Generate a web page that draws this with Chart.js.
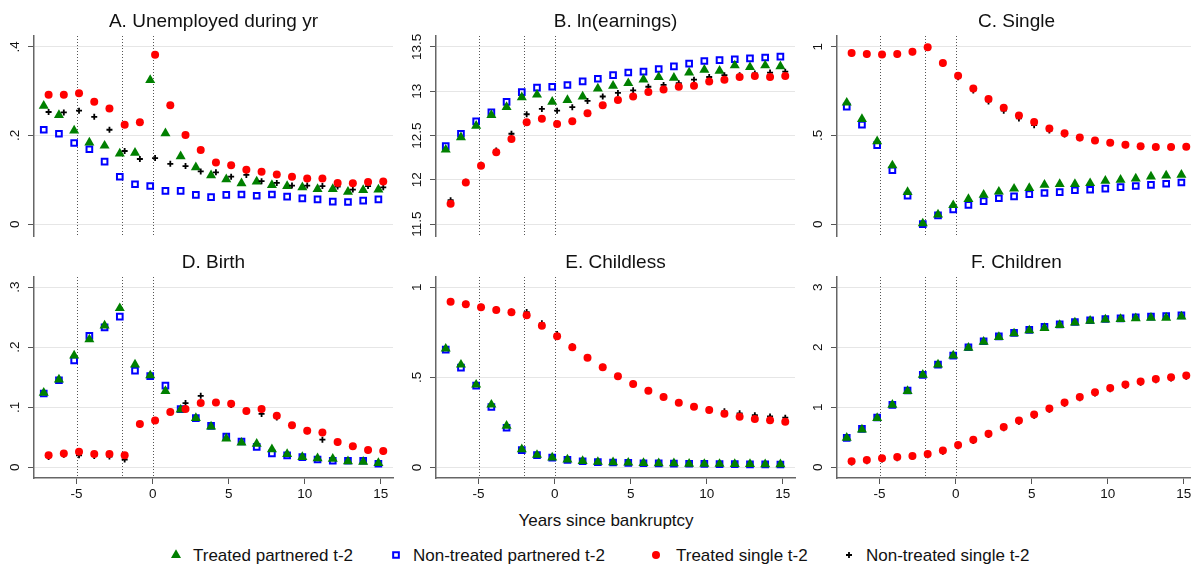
<!DOCTYPE html>
<html>
<head>
<meta charset="utf-8">
<script src="https://cdn.jsdelivr.net/npm/chart.js@4.4.1/dist/chart.umd.min.js"></script>
<style>
  body { margin: 0; width: 1191px; height: 570px; overflow: hidden; background: #fff;
         position: relative; font-family: "Liberation Sans", Arial, sans-serif; color: #111; }
  canvas { position: absolute; }
  .title { position: absolute; font-size: 19px; line-height: 1; white-space: nowrap; transform: translate(-50%, -50%); }
  .xtitle { position: absolute; left: 606px; top: 520px; font-size: 17px; line-height: 1; white-space: nowrap; transform: translate(-50%, -50%); }
  .leg { position: absolute; top: 555px; font-size: 17px; line-height: 1; white-space: nowrap; transform: translateY(-50%); }
</style>
</head>
<body>
<div id="root"></div>
<div class="xtitle">Years since bankruptcy</div>
<script>
// years relative to bankruptcy
const years = [-7, -6, -5, -4, -3, -2, -1, 0, 1, 2, 3, 4, 5, 6, 7, 8, 9, 10, 11, 12, 13, 14, 15];
const eventYears = [-5, -2, 0];

// A. Unemployed during yr
const unempTP = [0.267, 0.246, 0.211, 0.184, 0.177, 0.159, 0.161, 0.325, 0.205, 0.153, 0.128, 0.110, 0.101, 0.092, 0.096, 0.088, 0.086, 0.083, 0.079, 0.079, 0.073, 0.077, 0.078];
const unempNP = [0.213, 0.204, 0.183, 0.169, 0.141, 0.107, 0.090, 0.086, 0.075, 0.075, 0.066, 0.061, 0.066, 0.067, 0.064, 0.067, 0.062, 0.058, 0.056, 0.051, 0.050, 0.053, 0.056];
const unempTS = [0.292, 0.292, 0.295, 0.276, 0.261, 0.224, 0.230, 0.382, 0.268, 0.201, 0.167, 0.139, 0.133, 0.123, 0.118, 0.112, 0.107, 0.103, 0.103, 0.093, 0.092, 0.095, 0.096];
const unempNS = [0.253, 0.252, 0.256, 0.242, 0.213, 0.165, 0.147, 0.149, 0.136, 0.131, 0.119, 0.117, 0.107, 0.111, 0.097, 0.093, 0.087, 0.087, 0.086, 0.085, 0.078, 0.086, 0.083];

// B. ln(earnings)
const earnTP = [12.34, 12.48, 12.61, 12.73, 12.82, 12.93, 12.96, 12.88, 12.90, 12.94, 13.03, 13.06, 13.09, 13.13, 13.16, 13.15, 13.21, 13.24, 13.23, 13.29, 13.27, 13.29, 13.28];
const earnNP = [12.38, 12.52, 12.66, 12.76, 12.88, 12.99, 13.04, 13.05, 13.07, 13.11, 13.14, 13.18, 13.21, 13.22, 13.25, 13.28, 13.31, 13.34, 13.35, 13.36, 13.37, 13.38, 13.39];
const earnTS = [11.73, 11.97, 12.16, 12.31, 12.46, 12.65, 12.69, 12.63, 12.66, 12.75, 12.84, 12.90, 12.94, 12.99, 13.02, 13.05, 13.06, 13.11, 13.13, 13.16, 13.17, 13.16, 13.17];
const earnNS = [11.77, 11.98, 12.17, 12.33, 12.52, 12.74, 12.80, 12.78, 12.82, 12.89, 12.94, 12.98, 13.01, 13.05, 13.07, 13.09, 13.13, 13.16, 13.18, 13.18, 13.20, 13.21, 13.22];

// C. Single
const singleTP = [0.685, 0.593, 0.467, 0.331, 0.181, 0.004, 0.054, 0.107, 0.141, 0.165, 0.183, 0.200, 0.204, 0.222, 0.226, 0.226, 0.231, 0.244, 0.250, 0.257, 0.268, 0.274, 0.278];
const singleNP = [0.663, 0.561, 0.446, 0.304, 0.161, 0.000, 0.050, 0.083, 0.109, 0.130, 0.146, 0.157, 0.169, 0.176, 0.181, 0.191, 0.194, 0.200, 0.209, 0.215, 0.222, 0.228, 0.235];
const singleTS = [0.965, 0.959, 0.957, 0.959, 0.972, 0.998, 0.909, 0.837, 0.765, 0.706, 0.657, 0.613, 0.576, 0.539, 0.513, 0.489, 0.472, 0.459, 0.448, 0.439, 0.435, 0.435, 0.437];
const singleNS = [0.962, 0.957, 0.955, 0.957, 0.970, 0.996, 0.905, 0.828, 0.754, 0.692, 0.640, 0.596, 0.558, 0.528, 0.506, 0.485, 0.469, 0.458, 0.445, 0.438, 0.436, 0.436, 0.435];

// D. Birth
const birthTP = [0.124, 0.146, 0.186, 0.213, 0.236, 0.265, 0.171, 0.153, 0.127, 0.096, 0.082, 0.068, 0.048, 0.041, 0.039, 0.030, 0.022, 0.017, 0.015, 0.014, 0.010, 0.009, 0.007];
const birthNP = [0.123, 0.145, 0.178, 0.219, 0.233, 0.251, 0.161, 0.152, 0.136, 0.097, 0.082, 0.069, 0.051, 0.043, 0.034, 0.023, 0.020, 0.017, 0.013, 0.011, 0.011, 0.011, 0.006];
const birthTS = [0.020, 0.023, 0.026, 0.022, 0.022, 0.020, 0.072, 0.078, 0.092, 0.097, 0.107, 0.108, 0.106, 0.094, 0.097, 0.086, 0.070, 0.061, 0.058, 0.042, 0.035, 0.029, 0.027];
const birthNS = [0.017, 0.021, 0.020, 0.019, 0.018, 0.013, 0.071, 0.077, 0.093, 0.107, 0.119, 0.107, 0.104, 0.093, 0.089, 0.083, 0.069, 0.060, 0.046, 0.041, 0.034, 0.028, 0.026];

// E. Childless
const childlessTP = [0.659, 0.570, 0.459, 0.348, 0.231, 0.100, 0.069, 0.054, 0.043, 0.035, 0.030, 0.028, 0.026, 0.024, 0.022, 0.022, 0.020, 0.019, 0.019, 0.018, 0.018, 0.017, 0.017];
const childlessNP = [0.654, 0.554, 0.454, 0.335, 0.220, 0.096, 0.068, 0.054, 0.042, 0.034, 0.029, 0.027, 0.025, 0.023, 0.022, 0.021, 0.020, 0.019, 0.018, 0.018, 0.017, 0.017, 0.016];
const childlessTS = [0.919, 0.906, 0.889, 0.874, 0.861, 0.844, 0.787, 0.728, 0.667, 0.609, 0.556, 0.506, 0.463, 0.426, 0.391, 0.359, 0.337, 0.319, 0.298, 0.281, 0.269, 0.261, 0.254];
const childlessNS = [0.924, 0.909, 0.892, 0.878, 0.866, 0.862, 0.800, 0.740, 0.672, 0.612, 0.558, 0.508, 0.466, 0.428, 0.393, 0.362, 0.341, 0.323, 0.311, 0.300, 0.290, 0.283, 0.276];

// F. Children
const childrenTP = [0.49, 0.63, 0.82, 1.04, 1.27, 1.54, 1.71, 1.86, 1.99, 2.09, 2.17, 2.23, 2.28, 2.32, 2.37, 2.41, 2.44, 2.46, 2.47, 2.48, 2.49, 2.49, 2.51];
const childrenNP = [0.49, 0.64, 0.83, 1.04, 1.28, 1.54, 1.71, 1.86, 2.00, 2.10, 2.18, 2.24, 2.29, 2.34, 2.38, 2.42, 2.45, 2.47, 2.48, 2.50, 2.51, 2.52, 2.53];
const childrenTS = [0.10, 0.12, 0.15, 0.17, 0.19, 0.22, 0.28, 0.37, 0.46, 0.56, 0.67, 0.78, 0.88, 0.98, 1.08, 1.17, 1.25, 1.32, 1.38, 1.43, 1.47, 1.50, 1.53];
const childrenNS = [0.08, 0.10, 0.13, 0.15, 0.17, 0.20, 0.26, 0.35, 0.44, 0.54, 0.65, 0.76, 0.86, 0.96, 1.06, 1.15, 1.23, 1.30, 1.36, 1.41, 1.45, 1.48, 1.51];

// tick labels
const xTicks = [-5, 0, 5, 10, 15];
const yTicksA = [0, 0.2, 0.4];
const yTicksB = [11.5, 12, 12.5, 13, 13.5];
const yTicksC = [0, 0.5, 1];
const yTicksD = [0, 0.1, 0.2, 0.3];
const yTicksE = [0, 0.5, 1];
const yTicksF = [0, 1, 2, 3];

const FONT = '"Liberation Sans", Arial, sans-serif';

const seriesStyles = [
    { label: 'Treated partnered t-2', pointStyle: 'triangle', radius: 5.8, fill: '#008000', stroke: '#008000', bw: 0, dx: -0.16, order: 2 },
    { label: 'Non-treated partnered t-2', pointStyle: 'rect', radius: 4, fill: 'rgba(0,0,0,0)', stroke: '#0000ff', bw: 2, dx: -0.16, order: 3 },
    { label: 'Treated single t-2', pointStyle: 'circle', radius: 4, fill: '#ff0000', stroke: '#ff0000', bw: 0, dx: 0.16, order: 0 },
    { label: 'Non-treated single t-2', pointStyle: 'cross', radius: 3, fill: '#000', stroke: '#000', bw: 1.8, dx: 0.16, order: 1 },
];

const panels = [
    { title: 'A. Unemployed during yr', series: [unempTP, unempNP, unempTS, unempNS], yTicks: yTicksA, yMin: -0.0267, yMax: 0.4244 },
    { title: 'B. ln(earnings)', series: [earnTP, earnNP, earnTS, earnNS], yTicks: yTicksB, yMin: 11.367, yMax: 13.622 },
    { title: 'C. Single', series: [singleTP, singleNP, singleTS, singleNS], yTicks: yTicksC, yMin: -0.0667, yMax: 1.061 },
    { title: 'D. Birth', series: [birthTP, birthNP, birthTS, birthNS], yTicks: yTicksD, yMin: -0.0178, yMax: 0.317 },
    { title: 'E. Childless', series: [childlessTP, childlessNP, childlessTS, childlessNS], yTicks: yTicksE, yMin: -0.059, yMax: 1.057 },
    { title: 'F. Children', series: [childrenTP, childrenNP, childrenTS, childrenNS], yTicks: yTicksF, yMin: -0.178, yMax: 3.17 },
];

// Stata style numbers: ".2" instead of "0.2"
function fmt(v) {
    return String(+v.toFixed(3)).replace(/^0\./, '.').replace(/^-0\./, '-.');
}

const panelDecor = {
    id: 'panelDecor',
    beforeDatasetsDraw(chart) {
        const { ctx, chartArea } = chart;
        const x = chart.scales.x;
        ctx.save();
        ctx.strokeStyle = '#555';
        ctx.lineWidth = 1;
        ctx.setLineDash([1, 2]);
        for (const yr of eventYears) {
            const px = Math.round(x.getPixelForValue(yr)) + 0.5;
            ctx.beginPath();
            ctx.moveTo(px, chartArea.top);
            ctx.lineTo(px, chartArea.bottom);
            ctx.stroke();
        }
        ctx.restore();
    },
    afterDraw(chart) {
        const { ctx } = chart;
        const y = chart.scales.y;
        ctx.save();
        ctx.fillStyle = '#111';
        ctx.font = '13.5px ' + FONT;
        ctx.textAlign = 'center';
        ctx.textBaseline = 'alphabetic';
        for (const t of y.ticks) {
            ctx.save();
            ctx.translate(y.right - 15, y.getPixelForValue(t.value));
            ctx.rotate(-Math.PI / 2);
            ctx.fillText(fmt(t.value), 0, 0);
            ctx.restore();
        }
        ctx.restore();
    }
};

const root = document.getElementById('root');
const colLeft = [0, 402, 803];

panels.forEach((p, i) => {
    const row = Math.floor(i / 3);
    const col = i % 3;
    const top = row ? 270 : 30;
    const height = row ? 230 : 212;

    const title = document.createElement('div');
    title.className = 'title';
    title.textContent = p.title;
    title.style.left = (colLeft[col] + 213.5) + 'px';
    title.style.top = (row ? 261 : 20) + 'px';
    document.body.appendChild(title);

    const canvas = document.createElement('canvas');
    canvas.width = 400;
    canvas.height = height;
    canvas.style.left = colLeft[col] + 'px';
    canvas.style.top = top + 'px';
    canvas.style.width = '400px';
    canvas.style.height = height + 'px';
    root.appendChild(canvas);

    const datasets = seriesStyles.map((s, k) => ({
        label: s.label,
        data: years.map((yr, j) => ({ x: yr + s.dx, y: p.series[k][j] })),
        showLine: false,
        order: s.order,
        pointStyle: s.pointStyle,
        pointRadius: s.radius,
        pointBackgroundColor: s.fill,
        pointBorderColor: s.stroke,
        pointBorderWidth: s.bw,
    }));

    new Chart(canvas, {
        type: 'scatter',
        data: { datasets },
        options: {
            responsive: false,
            animation: false,
            events: [],
            devicePixelRatio: 1,
            layout: { padding: { left: 0, right: 7, top: row ? 7 : 4, bottom: row ? 0 : 5 } },
            plugins: { legend: { display: false }, tooltip: { enabled: false } },
            scales: {
                x: {
                    type: 'linear',
                    min: -7.8,
                    max: 15.8,
                    display: row === 1,
                    afterBuildTicks: s => { s.ticks = xTicks.map(v => ({ value: v })); },
                    afterFit: s => { s.height = row ? 22 : 0; },
                    grid: { drawOnChartArea: false, drawTicks: true, tickLength: 6, tickColor: '#555', tickWidth: 1 },
                    border: { display: true, color: '#666', width: 1.5 },
                    ticks: { color: '#111', font: { family: FONT, size: 13.5 }, padding: 2, maxRotation: 0, autoSkip: false },
                },
                y: {
                    type: 'linear',
                    min: p.yMin,
                    max: p.yMax,
                    afterBuildTicks: s => { s.ticks = p.yTicks.map(v => ({ value: v })); },
                    afterFit: s => { s.width = 34; },
                    grid: { color: '#e6e6e6', lineWidth: 1, drawTicks: true, tickLength: 6, tickColor: '#555', tickWidth: 1 },
                    border: { display: true, color: '#666', width: 1.5 },
                    ticks: { display: false },
                },
            },
        },
        plugins: [panelDecor],
    });
});

// legend
const legendPos = [
    { marker: 176, text: 193 },
    { marker: 396, text: 413 },
    { marker: 656, text: 676 },
    { marker: 849, text: 866 },
];
seriesStyles.forEach((s, k) => {
    const c = document.createElement('canvas');
    c.width = 16; c.height = 16;
    c.style.left = (legendPos[k].marker - 8) + 'px';
    c.style.top = (555 - 8) + 'px';
    document.body.appendChild(c);
    const ctx = c.getContext('2d');
    ctx.fillStyle = s.fill;
    ctx.strokeStyle = s.stroke;
    ctx.lineWidth = s.bw;
    Chart.helpers.drawPoint(ctx, { pointStyle: s.pointStyle, radius: s.radius, rotation: 0, borderWidth: s.bw }, 8, 8);

    const t = document.createElement('div');
    t.className = 'leg';
    t.style.left = legendPos[k].text + 'px';
    t.textContent = s.label;
    document.body.appendChild(t);
});
</script>
</body>
</html>
